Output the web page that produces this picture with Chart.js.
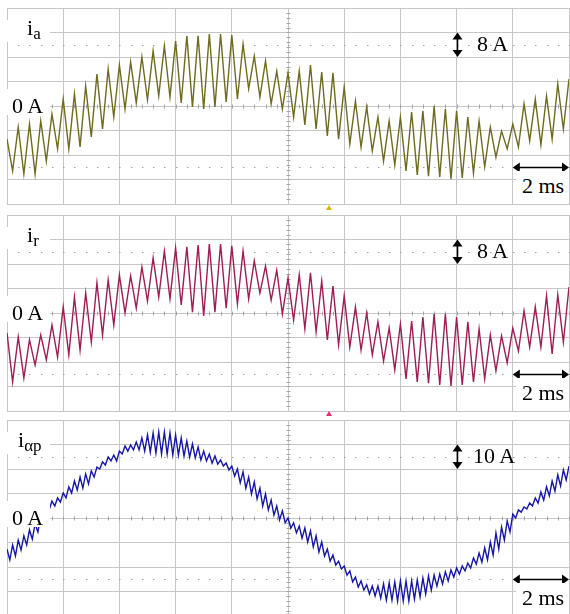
<!DOCTYPE html>
<html lang="en">
<head>
<meta charset="UTF-8">
<title>ia, ir, iap traces</title>
<script src="https://cdn.jsdelivr.net/npm/chart.js"></script>
<style>
  html, body { margin: 0; padding: 0; background: #fff; }
  body { width: 570px; height: 614px; overflow: hidden; position: relative; }
  canvas { position: absolute; left: 0; }
  .mask { position: absolute; background: #fff; }
  .lbl {
    position: absolute;
    font-family: "Liberation Serif", "Times New Roman", serif;
    font-size: 22px;
    line-height: 22px;
    color: #000;
    white-space: nowrap;
  }
  .lbl .sub { font-size: 17px; position: relative; top: 4px; }
  .trig {
    position: absolute; width: 0; height: 0;
    border-left: 3.5px solid transparent;
    border-right: 3.5px solid transparent;
  }
</style>
</head>
<body>

<canvas id="p1" width="570" height="200" style="top:6px"></canvas>
<canvas id="p2" width="570" height="200" style="top:213px"></canvas>
<canvas id="p3" width="570" height="200" style="top:418px"></canvas>

<div class="trig" style="left:326px; top:205px; border-bottom:5px solid #d6b600"></div>
<div class="trig" style="left:326px; top:411px; border-bottom:5px solid #e6306c"></div>

<script>
  // time axis: 10 divisions of 2 ms
  const timeDivs = [0, 2, 4, 6, 8, 10, 12, 14, 16, 18, 20];

  // i_a (8 A/div): ripple peaks every 0.4 ms, troughs 0.2 ms later
  const iaPeaks = [-10.8, -6.9, -5.9, -4.9, -2.6, 2.3, 3.9, 6.5, 10.4, 12.1,
    13.4, 14.4, 16.0, 18.0, 19.6, 21.2, 22.9, 22.9, 23.5, 23.5,
    23.2, 20.2, 16.3, 14.7, 11.4, 10.8, 11.4, 13.4, 11.1, 10.8,
    6.2, 1.6, -0.3, -3.6, -4.9, -3.6, -2.0, -1.6, 0, -1.0,
    -1.6, -3.6, -4.9, -6.9, -8.2, -5.9, 0.7, 2.3, 3.3, 7.2, 8.8];
  const iaTroughs = [-21.2, -22.2, -22.2, -18.0, -14.0, -14.0, -13.4, -10.1, -7.5, -3.6,
    -1.0, 1.0, 2.0, 3.3, 2.9, 1.0, -0.3, -1.0, -0.3, 1.3,
    2.3, 5.6, 2.9, 0.7, -1.0, -3.6, -6.2, -7.5, -9.8, -10.8,
    -12.4, -13.4, -14.7, -18.0, -19.3, -21.2, -22.5, -22.9, -23.2, -23.8,
    -23.5, -21.9, -19.9, -16.7, -14.0, -13.4, -11.4, -12.7, -10.8, -7.5];

  // i_r (8 A/div)
  const irPeaks = [-6.5, -7.8, -8.8, -7.2, -3.9, 2.0, 5.2, 6.5, 9.8, 10.8,
    12.4, 12.1, 15.0, 18.0, 20.2, 21.2, 21.6, 22.2, 22.5, 22.5,
    21.9, 20.2, 17.0, 15.3, 14.0, 11.4, 12.4, 13.1, 10.4, 8.8,
    5.6, 2.0, 0, -2.9, -4.9, -3.6, -2.6, -1.3, -0.3, -0.3,
    -1.3, -2.9, -5.2, -7.2, -7.5, -4.9, 0.7, 2.0, 5.6, 5.9, 8.5];
  const irTroughs = [-22.5, -21.2, -17.0, -15.3, -14.4, -13.7, -12.1, -9.5, -7.2, -3.9,
    0, 1.6, 3.9, 5.2, 4.6, 2.6, 0.3, -1.0, 0.3, 1.6,
    2.9, 4.6, 6.5, 4.2, -0.3, -2.3, -5.2, -6.2, -8.8, -10.4,
    -11.1, -12.1, -13.7, -15.7, -18.6, -21.5, -22.5, -22.9, -23.5, -23.8,
    -23.5, -22.5, -21.5, -18.9, -16.3, -12.4, -11.1, -11.1, -13.4, -9.5];

  // i_alpha_p (10 A/div): band top every 0.2 ms, band bottom 0.1 ms later
  const iapPeaks = [-12.7, -11.0, -9.0, -7.3, -4.9, -2.4, 0.8, 4.1, 6.9, 8.2,
    10.2, 12.7, 15.1, 16.7, 18.0, 19.2, 20.8, 22.9, 24.9, 25.7,
    27.3, 29.4, 29.8, 31.0, 32.7, 33.9, 34.7, 35.1, 35.1, 34.7,
    33.9, 32.7, 31.4, 30.2, 29.0, 27.3, 26.1, 25.3, 23.7, 22.4,
    21.2, 20.0, 18.8, 16.7, 14.7, 12.2, 9.8, 7.3, 4.9, 2.9,
    0, -2.0, -3.3, -4.1, -5.3, -7.3, -9.8, -12.7, -15.1, -17.6,
    -19.6, -21.6, -24.1, -25.7, -27.3, -27.8, -27.8, -26.9, -26.5, -26.1,
    -25.7, -25.7, -25.7, -25.3, -24.5, -23.7, -23.3, -22.9, -22.0, -21.2,
    -20.4, -19.6, -18.4, -16.3, -14.3, -12.2, -9.8, -6.1, -3.7, -1.2,
    1.6, 3.3, 4.5, 6.1, 8.2, 10.6, 12.7, 15.1, 17.6, 19.6, 21.2];
  const iapTroughs = [-17.1, -15.5, -13.1, -11.0, -8.6, -5.7, -1.6, 3.3, 4.9, 6.5,
    8.2, 10.2, 11.4, 12.2, 13.9, 16.7, 20.0, 21.6, 23.3, 23.3,
    26.1, 27.3, 27.8, 27.8, 27.3, 26.9, 26.5, 26.1, 26.1, 25.7,
    25.7, 25.3, 24.9, 24.5, 23.7, 23.3, 22.4, 22.0, 21.2, 19.6,
    17.1, 14.3, 12.2, 9.8, 7.8, 4.9, 3.3, 1.2, -0.8, -2.0,
    -4.1, -6.1, -8.2, -9.8, -11.8, -13.9, -15.5, -17.6, -19.2, -20.8,
    -23.3, -26.1, -28.2, -29.4, -31.0, -31.8, -32.7, -33.5, -33.5, -33.9,
    -33.9, -33.9, -33.1, -32.2, -31.0, -29.4, -27.8, -26.9, -25.7, -24.1,
    -22.9, -21.6, -20.4, -18.8, -18.0, -17.1, -15.1, -12.7, -9.0, -5.7,
    0, 2.4, 3.7, 4.9, 6.1, 7.3, 9.0, 11.0, 13.1, 15.5];

  const traceNames = ['a', 'r', 'αp'];
  const ampsPerDiv = [8, 8, 10];
  const scaleLabels = ['8 A', '8 A', '10 A'];
  const timeLabel = '2 ms';
  const zeroLabel = '0 A';

  const gridColor = '#c6c6c6';
  const dotColor = '#a0a0a0';

  // peak, trough, peak, ... with half a ripple step between them
  function zigzag(hi, lo, halfStep) {
    const pts = [];
    hi.forEach((v, k) => {
      pts.push({ x: 2 * k * halfStep, y: v });
      if (k < lo.length) pts.push({ x: (2 * k + 1) * halfStep, y: lo[k] });
    });
    return pts;
  }

  function arrowHead(ctx, x, y, dx, dy) {
    // tip at (x,y), pointing along (dx,dy)
    const len = 7, half = 5;
    ctx.beginPath();
    ctx.moveTo(x, y);
    ctx.lineTo(x - dx * len - dy * half, y - dy * len + dx * half);
    ctx.lineTo(x - dx * len + dy * half, y - dy * len - dx * half);
    ctx.closePath();
    ctx.fill();
  }

  function graticule(apd) {
    return {
      id: 'graticule',
      beforeDatasetsDraw(chart) {
        const { ctx, scales: { x, y } } = chart;
        ctx.save();
        // dotted lines at +-2.5 div
        ctx.fillStyle = dotColor;
        [2.5 * apd, -2.5 * apd].forEach(v => {
          const py = Math.round(y.getPixelForValue(v));
          for (let t = 0.4; t < 20; t += 0.4) {
            ctx.fillRect(Math.round(x.getPixelForValue(t)), py, 1.5, 1);
          }
        });
        // minor ticks on the centre cross
        ctx.strokeStyle = '#a4a4a4';
        ctx.lineWidth = 1;
        const cx = Math.round(x.getPixelForValue(10)) + 0.5;
        const cy = Math.round(y.getPixelForValue(0)) + 0.5;
        ctx.beginPath();
        for (let t = 0.4; t < 20; t += 0.4) {
          const px = Math.round(x.getPixelForValue(t)) + 0.5;
          ctx.moveTo(px, cy - 2); ctx.lineTo(px, cy + 2);
        }
        for (let d = -3.8; d < 4; d += 0.2) {
          const py = Math.round(y.getPixelForValue(d * apd)) + 0.5;
          ctx.moveTo(cx - 2, py); ctx.lineTo(cx + 2, py);
        }
        ctx.stroke();
        ctx.restore();
      },
      afterDatasetsDraw(chart) {
        const { ctx, scales: { x, y } } = chart;
        ctx.save();
        ctx.strokeStyle = '#000';
        ctx.fillStyle = '#000';
        ctx.lineWidth = 1.5;
        // one division, vertical
        const ax = Math.round(x.getPixelForValue(16)) + 0.5;
        const y3 = y.getPixelForValue(3 * apd), y2 = y.getPixelForValue(2 * apd);
        ctx.beginPath(); ctx.moveTo(ax, y3 + 4); ctx.lineTo(ax, y2 - 4); ctx.stroke();
        arrowHead(ctx, ax, y3, 0, -1);
        arrowHead(ctx, ax, y2, 0, 1);
        // one division, horizontal
        const ay = Math.round(y.getPixelForValue(-2.5 * apd)) + 0.5;
        const x18 = x.getPixelForValue(18), x20 = x.getPixelForValue(20);
        ctx.beginPath(); ctx.moveTo(x18 + 4, ay); ctx.lineTo(x20 - 4, ay); ctx.stroke();
        arrowHead(ctx, x18, ay, -1, 0);
        arrowHead(ctx, x20, ay, 1, 0);
        ctx.restore();
      }
    };
  }

  function makePanel(id, points, color, width, apd) {
    const axisGrid = { color: gridColor, lineWidth: 1, drawTicks: false };
    return new Chart(document.getElementById(id), {
      type: 'line',
      data: {
        datasets: [{
          data: points,
          borderColor: color,
          borderWidth: width,
          pointRadius: 0,
          tension: 0,
          fill: false
        }]
      },
      options: {
        responsive: false,
        animation: false,
        events: [],
        layout: { padding: { left: 7, right: 1, top: 2, bottom: 2 } },
        plugins: { legend: { display: false }, tooltip: { enabled: false } },
        scales: {
          x: {
            type: 'linear', min: timeDivs[0], max: timeDivs[timeDivs.length - 1],
            afterBuildTicks: s => { s.ticks = timeDivs.map(v => ({ value: v })); },
            ticks: { display: false },
            grid: axisGrid,
            border: { color: gridColor }
          },
          y: {
            type: 'linear', min: -4 * apd, max: 4 * apd,
            ticks: { display: false, stepSize: apd },
            grid: axisGrid,
            border: { color: gridColor }
          }
        }
      },
      plugins: [graticule(apd)]
    });
  }

  const charts = [
    makePanel('p1', zigzag(iaPeaks, iaTroughs, 0.2), '#6e6b20', 1.4, ampsPerDiv[0]),
    makePanel('p2', zigzag(irPeaks, irTroughs, 0.2), '#9e1d55', 1.4, ampsPerDiv[1]),
    makePanel('p3', zigzag(iapPeaks, iapTroughs, 0.1), '#1616a6', 1.4, ampsPerDiv[2])
  ];

  function addBox(cls, left, top, w, h, html) {
    const d = document.createElement('div');
    d.className = cls;
    d.style.left = left + 'px';
    d.style.top = top + 'px';
    if (w) { d.style.width = w + 'px'; d.style.height = h + 'px'; }
    if (html) d.innerHTML = html;
    document.body.appendChild(d);
  }

  charts.forEach((ch, i) => {
    const top = ch.canvas.offsetTop;
    const z = Math.round(top + ch.scales.y.getPixelForValue(0));
    const nameLeft = i === 2 ? 18 : 27;
    const scaleLeft = i === 2 ? 473 : 477;
    addBox('mask', 7, z - 86, 43, 22);
    addBox('lbl', nameLeft, z - 89, 0, 0, 'i<span class="sub">' + traceNames[i] + '</span>');
    addBox('mask', 7, z - 17, 43, 26);
    addBox('lbl', 12, z - 11, 0, 0, zeroLabel);
    addBox('lbl', scaleLeft, z - 73, 0, 0, scaleLabels[i]);
    addBox('mask', 516, z + 65, 53, 31);
    addBox('lbl', 522, z + 69, 0, 0, timeLabel);
  });
</script>

</body>
</html>
